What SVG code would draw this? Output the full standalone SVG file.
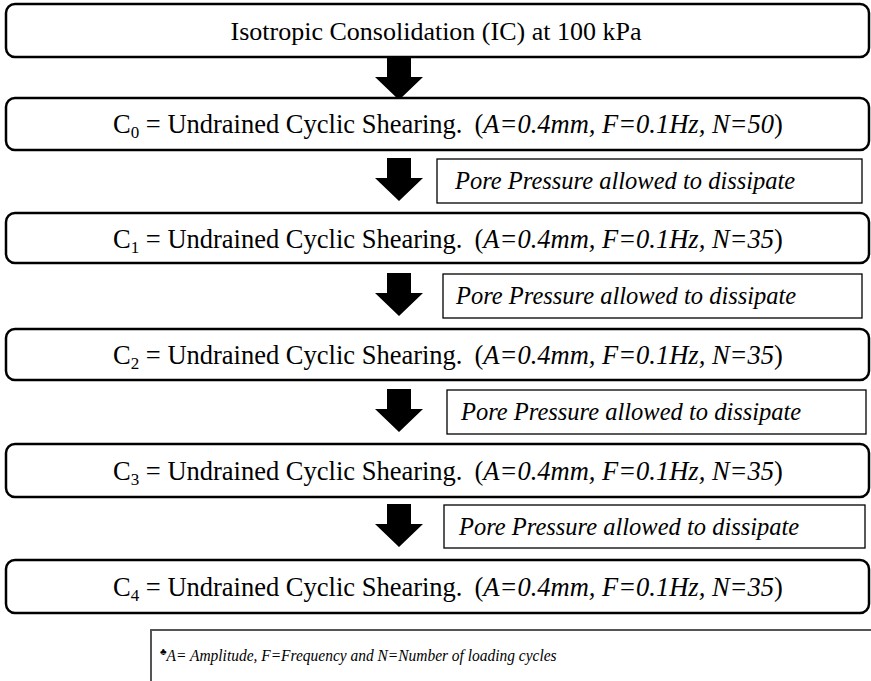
<svg xmlns="http://www.w3.org/2000/svg" width="871" height="681" viewBox="0 0 871 681">
<style>
.main{fill:#fff;stroke:#000;stroke-width:2.5}
.side{fill:#fff;stroke:#000;stroke-width:1.3}
.t{font-family:"Liberation Serif","Times New Roman",serif;font-size:26px;fill:#000}
.c{font-size:26.5px}
.sub{font-size:17px}
.i{font-style:italic}
.s{font-family:"Liberation Serif","Times New Roman",serif;font-size:24.5px;font-style:italic;fill:#000}
.f{font-family:"Liberation Serif","Times New Roman",serif;font-size:17px;font-style:italic;fill:#000}
.arr{fill:#000}
</style>
<defs>
<path id="arrow" d="M-12,0 H12 V20 H24 L0,43 L-24,20 H-12 Z"/>
</defs>
<rect width="871" height="681" fill="#fff"/>
<g id="connectors">
<use href="#arrow" class="arr" x="399" y="57"/>
<use href="#arrow" class="arr" x="399" y="158"/>
<use href="#arrow" class="arr" x="399" y="273"/>
<use href="#arrow" class="arr" x="399" y="389"/>
<use href="#arrow" class="arr" x="399" y="504"/>
</g>
<g id="ic">
<rect class="main" x="6" y="4" width="863" height="53" rx="9"/>
<text class="t" x="436" y="40" text-anchor="middle">Isotropic Consolidation (IC) at 100 kPa</text>
</g>
<g id="c0">
<rect class="main" x="6" y="98" width="863" height="52" rx="9"/>
<text class="t c" x="113" y="133">C<tspan class="sub" dy="5">0</tspan><tspan dy="-5"> = Undrained Cyclic Shearing.</tspan><tspan dx="12">(</tspan><tspan class="i">A=0.4mm, F=0.1Hz, N=50</tspan>)</text>
</g>
<g id="pp1">
<rect class="side" x="437" y="159" width="425" height="44"/>
<text class="s" x="455" y="189">Pore Pressure allowed to dissipate</text>
</g>
<g id="c1">
<rect class="main" x="6" y="213" width="863" height="50" rx="9"/>
<text class="t c" x="113" y="248">C<tspan class="sub" dy="5">1</tspan><tspan dy="-5"> = Undrained Cyclic Shearing.</tspan><tspan dx="12">(</tspan><tspan class="i">A=0.4mm, F=0.1Hz, N=35</tspan>)</text>
</g>
<g id="pp2">
<rect class="side" x="443" y="274" width="419" height="44"/>
<text class="s" x="456" y="304">Pore Pressure allowed to dissipate</text>
</g>
<g id="c2">
<rect class="main" x="6" y="329" width="863" height="51" rx="9"/>
<text class="t c" x="113" y="364">C<tspan class="sub" dy="5">2</tspan><tspan dy="-5"> = Undrained Cyclic Shearing.</tspan><tspan dx="12">(</tspan><tspan class="i">A=0.4mm, F=0.1Hz, N=35</tspan>)</text>
</g>
<g id="pp3">
<rect class="side" x="447" y="390" width="419" height="44"/>
<text class="s" x="461" y="420">Pore Pressure allowed to dissipate</text>
</g>
<g id="c3">
<rect class="main" x="6" y="444" width="863" height="53" rx="9"/>
<text class="t c" x="113" y="480">C<tspan class="sub" dy="5">3</tspan><tspan dy="-5"> = Undrained Cyclic Shearing.</tspan><tspan dx="12">(</tspan><tspan class="i">A=0.4mm, F=0.1Hz, N=35</tspan>)</text>
</g>
<g id="pp4">
<rect class="side" x="444" y="505" width="421" height="43"/>
<text class="s" x="459" y="535">Pore Pressure allowed to dissipate</text>
</g>
<g id="c4">
<rect class="main" x="6" y="560" width="863" height="53" rx="9"/>
<text class="t c" x="113" y="596">C<tspan class="sub" dy="5">4</tspan><tspan dy="-5"> = Undrained Cyclic Shearing.</tspan><tspan dx="12">(</tspan><tspan class="i">A=0.4mm, F=0.1Hz, N=35</tspan>)</text>
</g>
<g id="footnote">
<path d="M151,690 V630 H875" fill="none" stroke="#555" stroke-width="2"/>
<text class="f" x="160" y="661"><tspan font-size="10" dy="-6">♣</tspan><tspan dy="6" textLength="390" lengthAdjust="spacingAndGlyphs">A= Amplitude, F=Frequency and N=Number of loading cycles</tspan></text>
</g>
</svg>
